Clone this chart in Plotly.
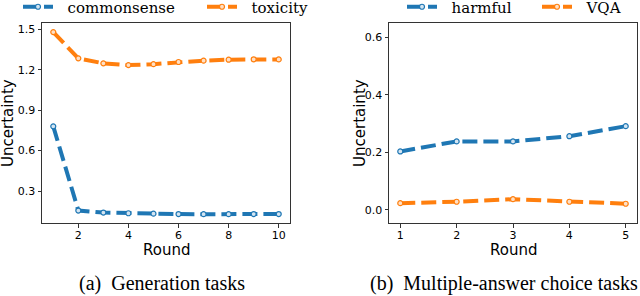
import plotly.graph_objects as go

# ---- data ----
rounds_gen = [1, 2, 3, 4, 5, 6, 7, 8, 9, 10]
commonsense = [0.78, 0.155, 0.14, 0.135, 0.132, 0.129, 0.128, 0.128, 0.129, 0.129]
toxicity = [1.48, 1.285, 1.248, 1.235, 1.242, 1.258, 1.268, 1.275, 1.278, 1.277]

rounds_mc = [1, 2, 3, 4, 5]
harmful = [0.203, 0.238, 0.238, 0.256, 0.291]
vqa = [0.023, 0.028, 0.037, 0.028, 0.021]

gen_xticks = [2, 4, 6, 8, 10]
gen_yticks = [0.3, 0.6, 0.9, 1.2, 1.5]
mc_xticks = [1, 2, 3, 4, 5]
mc_yticks = [0.0, 0.2, 0.4, 0.6]

BLUE = "#1f77b4"
ORANGE = "#ff7f0e"
OFF = 10                # hidden strip above the visible area (room for the legends)
W, H = 640, 296 + OFF

def px(x):
    return x / W

def py(y):
    return 1 - (y + OFF) / H

fig = go.Figure()

def add(x, y, name, color, light, xa, ya, legend):
    fig.add_trace(go.Scatter(
        x=x, y=y, name="\u00a0\u00a0" + name, mode="lines+markers",
        line=dict(color=color, width=4, dash="15px,6px"),
        marker=dict(symbol="circle", size=5, color=light, line=dict(color=color, width=1.2)),
        xaxis=xa, yaxis=ya, legend=legend, showlegend=True,
    ))

add(rounds_gen, commonsense, "commonsense", BLUE, "#d4e5f2", "x", "y", "legend")
add(rounds_gen, toxicity, "toxicity", ORANGE, "#ffe0c6", "x", "y", "legend2")
add(rounds_mc, harmful, "harmful", BLUE, "#d4e5f2", "x2", "y2", "legend3")
add(rounds_mc, vqa, "VQA", ORANGE, "#ffe0c6", "x2", "y2", "legend4")

axis_common = dict(
    showline=True, mirror=True, linecolor="#333", linewidth=1,
    ticks="outside", ticklen=3.5, tickwidth=1, tickcolor="#333",
    showgrid=False, zeroline=False,
    tickfont=dict(family="DejaVu Sans", size=11, color="black"),
)

leg_font = dict(family="DejaVu Serif", size=15, color="black")
def leg(xpix):
    return dict(x=px(xpix), xanchor="left", y=py(7), yanchor="middle",
                font=leg_font, bgcolor="rgba(0,0,0,0)", borderwidth=0)

fig.update_layout(
    width=W, height=H,
    margin=dict(l=0, r=0, t=0, b=0),
    paper_bgcolor="white", plot_bgcolor="white",
    xaxis=dict(domain=[px(42), px(290)], range=[0.55, 10.45], tickvals=gen_xticks,
               anchor="y", ticklabelstandoff=-2, **axis_common),
    yaxis=dict(domain=[py(223), py(23)], range=[0.0625, 1.5475], tickvals=gen_yticks,
               tickformat=".1f", anchor="x", **axis_common),
    xaxis2=dict(domain=[px(389), px(637)], range=[0.8, 5.2], tickvals=mc_xticks,
                anchor="y2", ticklabelstandoff=-2, **axis_common),
    yaxis2=dict(domain=[py(223), py(23)], range=[-0.046, 0.65], tickvals=mc_yticks,
                tickformat=".1f", anchor="x2", **axis_common),
    legend=leg(18),
    legend2=leg(202),
    legend3=leg(402),
    legend4=leg(537),
)

title_font = dict(family="DejaVu Sans", size=15, color="black")
cap_font = dict(family="Liberation Serif", size=20, color="black")
annos = [
    dict(text="Round", x=px(166), y=py(250), font=title_font),
    dict(text="Round", x=px(513), y=py(250), font=title_font),
    dict(text="Uncertainty", x=px(8), y=py(123), font=title_font, textangle=-90),
    dict(text="Uncertainty", x=px(360), y=py(123), font=title_font, textangle=-90),
    dict(text="(a)\u00a0\u00a0Generation tasks", x=px(162), y=py(283), font=cap_font),
    dict(text="(b)\u00a0\u00a0Multiple-answer choice tasks", x=px(504), y=py(283), font=cap_font),
]
for a in annos:
    fig.add_annotation(xref="paper", yref="paper", xanchor="center", yanchor="middle",
                       showarrow=False, **a)

fig.write_html(
    "out.html",
    config={"displayModeBar": False},
    post_script=("document.body.style.margin='0';"
                 "document.body.style.overflow='hidden';"
                 "document.getElementById('{plot_id}').style.marginTop='-%dpx';" % OFF),
)
